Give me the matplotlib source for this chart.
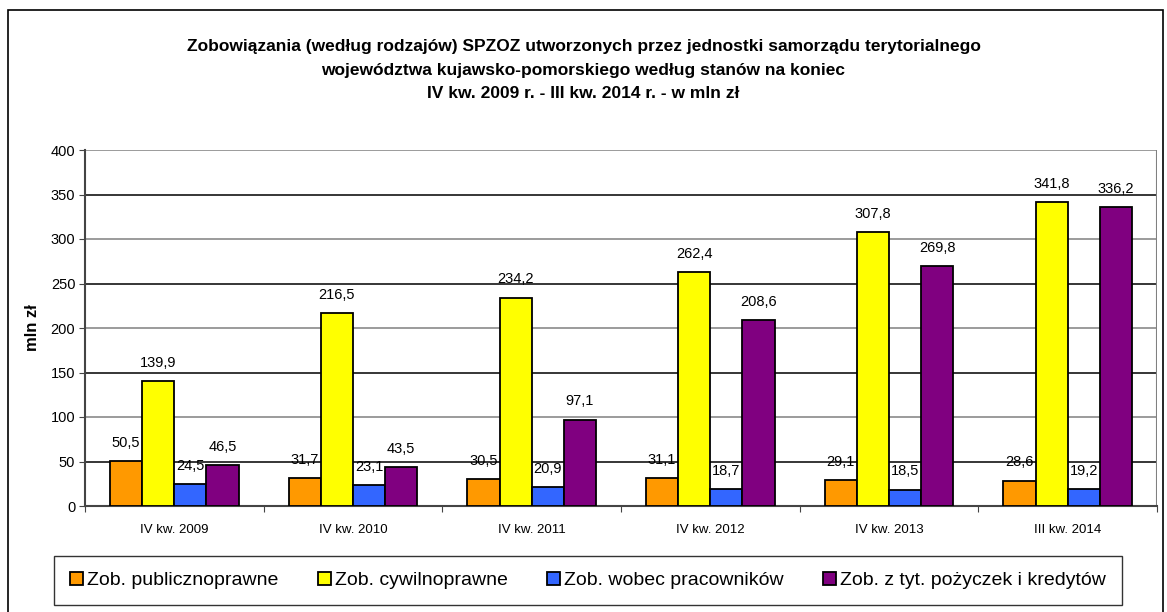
import matplotlib
matplotlib.use('Agg')
from matplotlib import pyplot as plt
from matplotlib import patches
import numpy as np

categories = ['IV kw. 2009', 'IV kw. 2010', 'IV kw. 2011', 'IV kw. 2012', 'IV kw. 2013', 'III kw. 2014']
series_names = ['Zob. publicznoprawne', 'Zob. cywilnoprawne',
                'Zob. wobec pracowników', 'Zob. z tyt. pożyczek i kredytów']
publiczno = [50.5, 31.7, 30.5, 31.1, 29.1, 28.6]
cywilno = [139.9, 216.5, 234.2, 262.4, 307.8, 341.8]
pracownicy = [24.5, 23.1, 20.9, 18.7, 18.5, 19.2]
pozyczki = [46.5, 43.5, 97.1, 208.6, 269.8, 336.2]
colors = ['#FF9900', '#FFFF00', '#3366FF', '#800080']

title = ('Zobowiązania (według rodzajów) SPZOZ utworzonych przez jednostki samorządu terytorialnego\n'
         'województwa kujawsko-pomorskiego według stanów na koniec\n'
         'IV kw. 2009 r. - III kw. 2014 r. - w mln zł')

plt.rcParams['font.family'] = ['Liberation Sans', 'DejaVu Sans']

fig = plt.figure(figsize=(11.67, 6.12), dpi=100)
fig.patches.append(patches.Rectangle((8 / 1167, -0.01), 1155 / 1167, 1.01 - 10 / 612,
                                     transform=fig.transFigure, fill=False,
                                     edgecolor='black', lw=1.2))

ax = fig.add_axes([85 / 1167, 1 - 506 / 612, 1072 / 1167, 356 / 612])

x = np.arange(len(categories))
w = 0.18
data = [publiczno, cywilno, pracownicy, pozyczki]
for i, vals in enumerate(data):
    xs = x + (i - 1.5) * w + 0.5
    ax.bar(xs, vals, w, color=colors[i], edgecolor='black', lw=1.3,
           label=series_names[i], zorder=3)
    for xi, v in zip(xs, vals):
        ax.annotate(f'{v:.1f}'.replace('.', ','), (xi, v), xytext=(0, 8),
                    textcoords='offset points', ha='center', va='bottom',
                    fontsize=10.5, zorder=4)

ax.set_xlim(0, len(categories))
ax.set_ylim(0, 400)
ax.set_yticks(range(0, 401, 50))
ax.set_xticks(np.arange(len(categories) + 1))
ax.set_xticklabels([])
ax.set_xticks(x + 0.5, minor=True)
ax.set_xticklabels(categories, minor=True, fontsize=9.5)
ax.tick_params(axis='x', which='minor', length=0, pad=13)
ax.tick_params(axis='x', which='major', length=4, direction='out', color='#444444')
ax.tick_params(axis='y', length=4, direction='out', pad=3, color='#444444',
               labelsize=10.5)

for yv in range(50, 401, 50):
    ax.axhline(yv, color='black' if yv % 100 else '#808080', lw=1.1, zorder=1)
for s in ['top', 'right']:
    ax.spines[s].set_visible(False)
ax.spines['left'].set_color('#444444')
ax.spines['bottom'].set_color('#444444')
ax.spines['left'].set_linewidth(1.5)
ax.spines['bottom'].set_linewidth(1.5)
ax.axvline(len(categories), color='#808080', lw=1.5)

ax.set_ylabel('mln zł', fontsize=12, fontweight='bold', labelpad=8)

fig.text(0.5, 1 - 70 / 612, title, ha='center', va='center', fontsize=12.5,
         fontweight='bold', linespacing=1.75)

leg = fig.legend(loc='center', bbox_to_anchor=(588 / 1167, 1 - 580.5 / 612), ncol=4,
                 fontsize=14, frameon=True, fancybox=False, edgecolor='black',
                 handlelength=0.7, handleheight=0.7, handletextpad=0.2,
                 columnspacing=2.0, borderpad=0.8)
leg.get_frame().set_linewidth(1.0)

fig.savefig('out.png', dpi=100)
